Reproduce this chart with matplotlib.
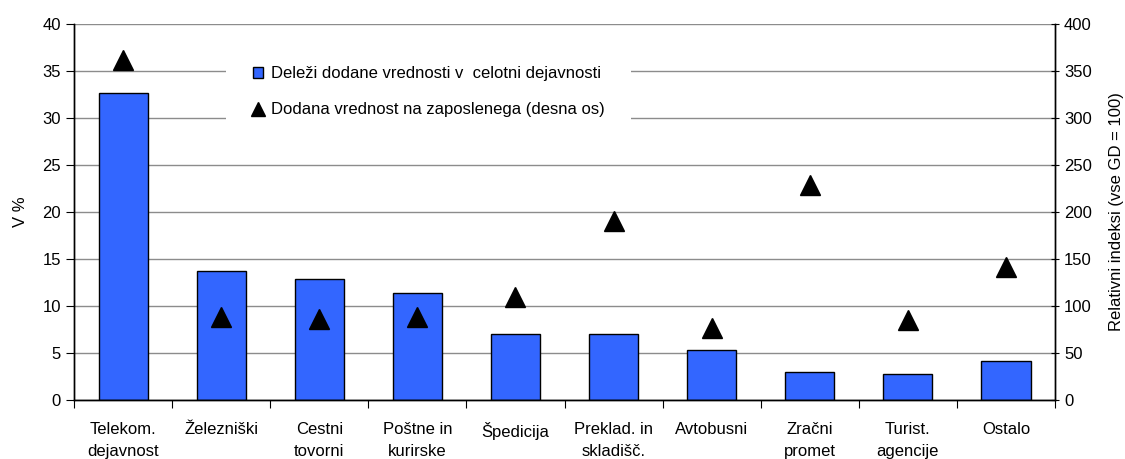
import matplotlib.pyplot as plt
from matplotlib.lines import Line2D
from matplotlib.patches import Patch

plt.rcParams['font.family'] = ['Liberation Sans', 'DejaVu Sans']
plt.rcParams['font.size'] = 12

categories = ["Telekom.\ndejavnost", "Železniški", "Cestni\ntovorni", "Poštne in\nkurirske",
              "Špedicija", "Preklad. in\nskladišč.", "Avtobusni", "Zračni\npromet",
              "Turist.\nagencije", "Ostalo"]
shares = [32.7, 13.7, 12.9, 11.4, 7.0, 7.0, 5.3, 3.0, 2.8, 4.1]
index_per_employee = [362, 88, 86, 88, 110, 190, 77, 229, 85, 141]

fig = plt.figure(figsize=(11.25, 4.59), dpi=100)
ax = fig.add_axes([0.0658, 0.1285, 0.872, 0.8192])
ax2 = ax.twinx()

x = range(len(categories))
ax.bar(x, shares, width=0.5, color="#3366FF", edgecolor="black", linewidth=1, zorder=2)
ax2.plot(x, index_per_employee, linestyle="none", marker="^", markersize=15,
         color="black", zorder=3)

ax.set_xlim(-0.5, len(categories) - 0.5)
ax.set_ylim(0, 40)
ax.set_yticks(range(0, 41, 5))
ax2.set_ylim(0, 400)
ax2.set_yticks(range(0, 401, 50))
ax.yaxis.grid(True, color="#8c8c8c", linewidth=1, zorder=0)
ax.set_axisbelow(True)

# category labels between boundary ticks
ax.set_xticks([i + 0.5 for i in range(-1, len(categories))])
ax.set_xticklabels([])
ax.set_xticks(list(x), minor=True)
ax.set_xticklabels(categories, minor=True, linespacing=1.6)
ax.tick_params(axis="x", which="minor", length=0, pad=16)
ax.tick_params(axis="x", which="major", length=6, direction="out")
ax.tick_params(axis="y", length=6, direction="out")
ax2.tick_params(axis="y", length=6, direction="inout")

for a in (ax, ax2):
    a.spines["top"].set_visible(False)
    for s in a.spines.values():
        s.set_linewidth(1)

ax.set_ylabel("V %", labelpad=10)
ax2.set_ylabel("Relativni indeksi (vse GD = 100)", labelpad=12)

handles = [Patch(facecolor="#3366FF", edgecolor="black"),
           Line2D([], [], linestyle="none", marker="^", color="black", markersize=10)]
labels = ["Deleži dodane vrednosti v  celotni dejavnosti",
          "Dodana vrednost na zaposlenega (desna os)"]
leg = ax2.legend(handles, labels, loc="upper left", bbox_to_anchor=(0.155, 0.958),
                 borderaxespad=0, frameon=True, facecolor="white", edgecolor="none",
                 framealpha=1, fancybox=False, handlelength=0.6, handleheight=0.6,
                 handletextpad=0.5, labelspacing=1.25, borderpad=1.6, fontsize=12)

fig.savefig("out.png", dpi=100)
